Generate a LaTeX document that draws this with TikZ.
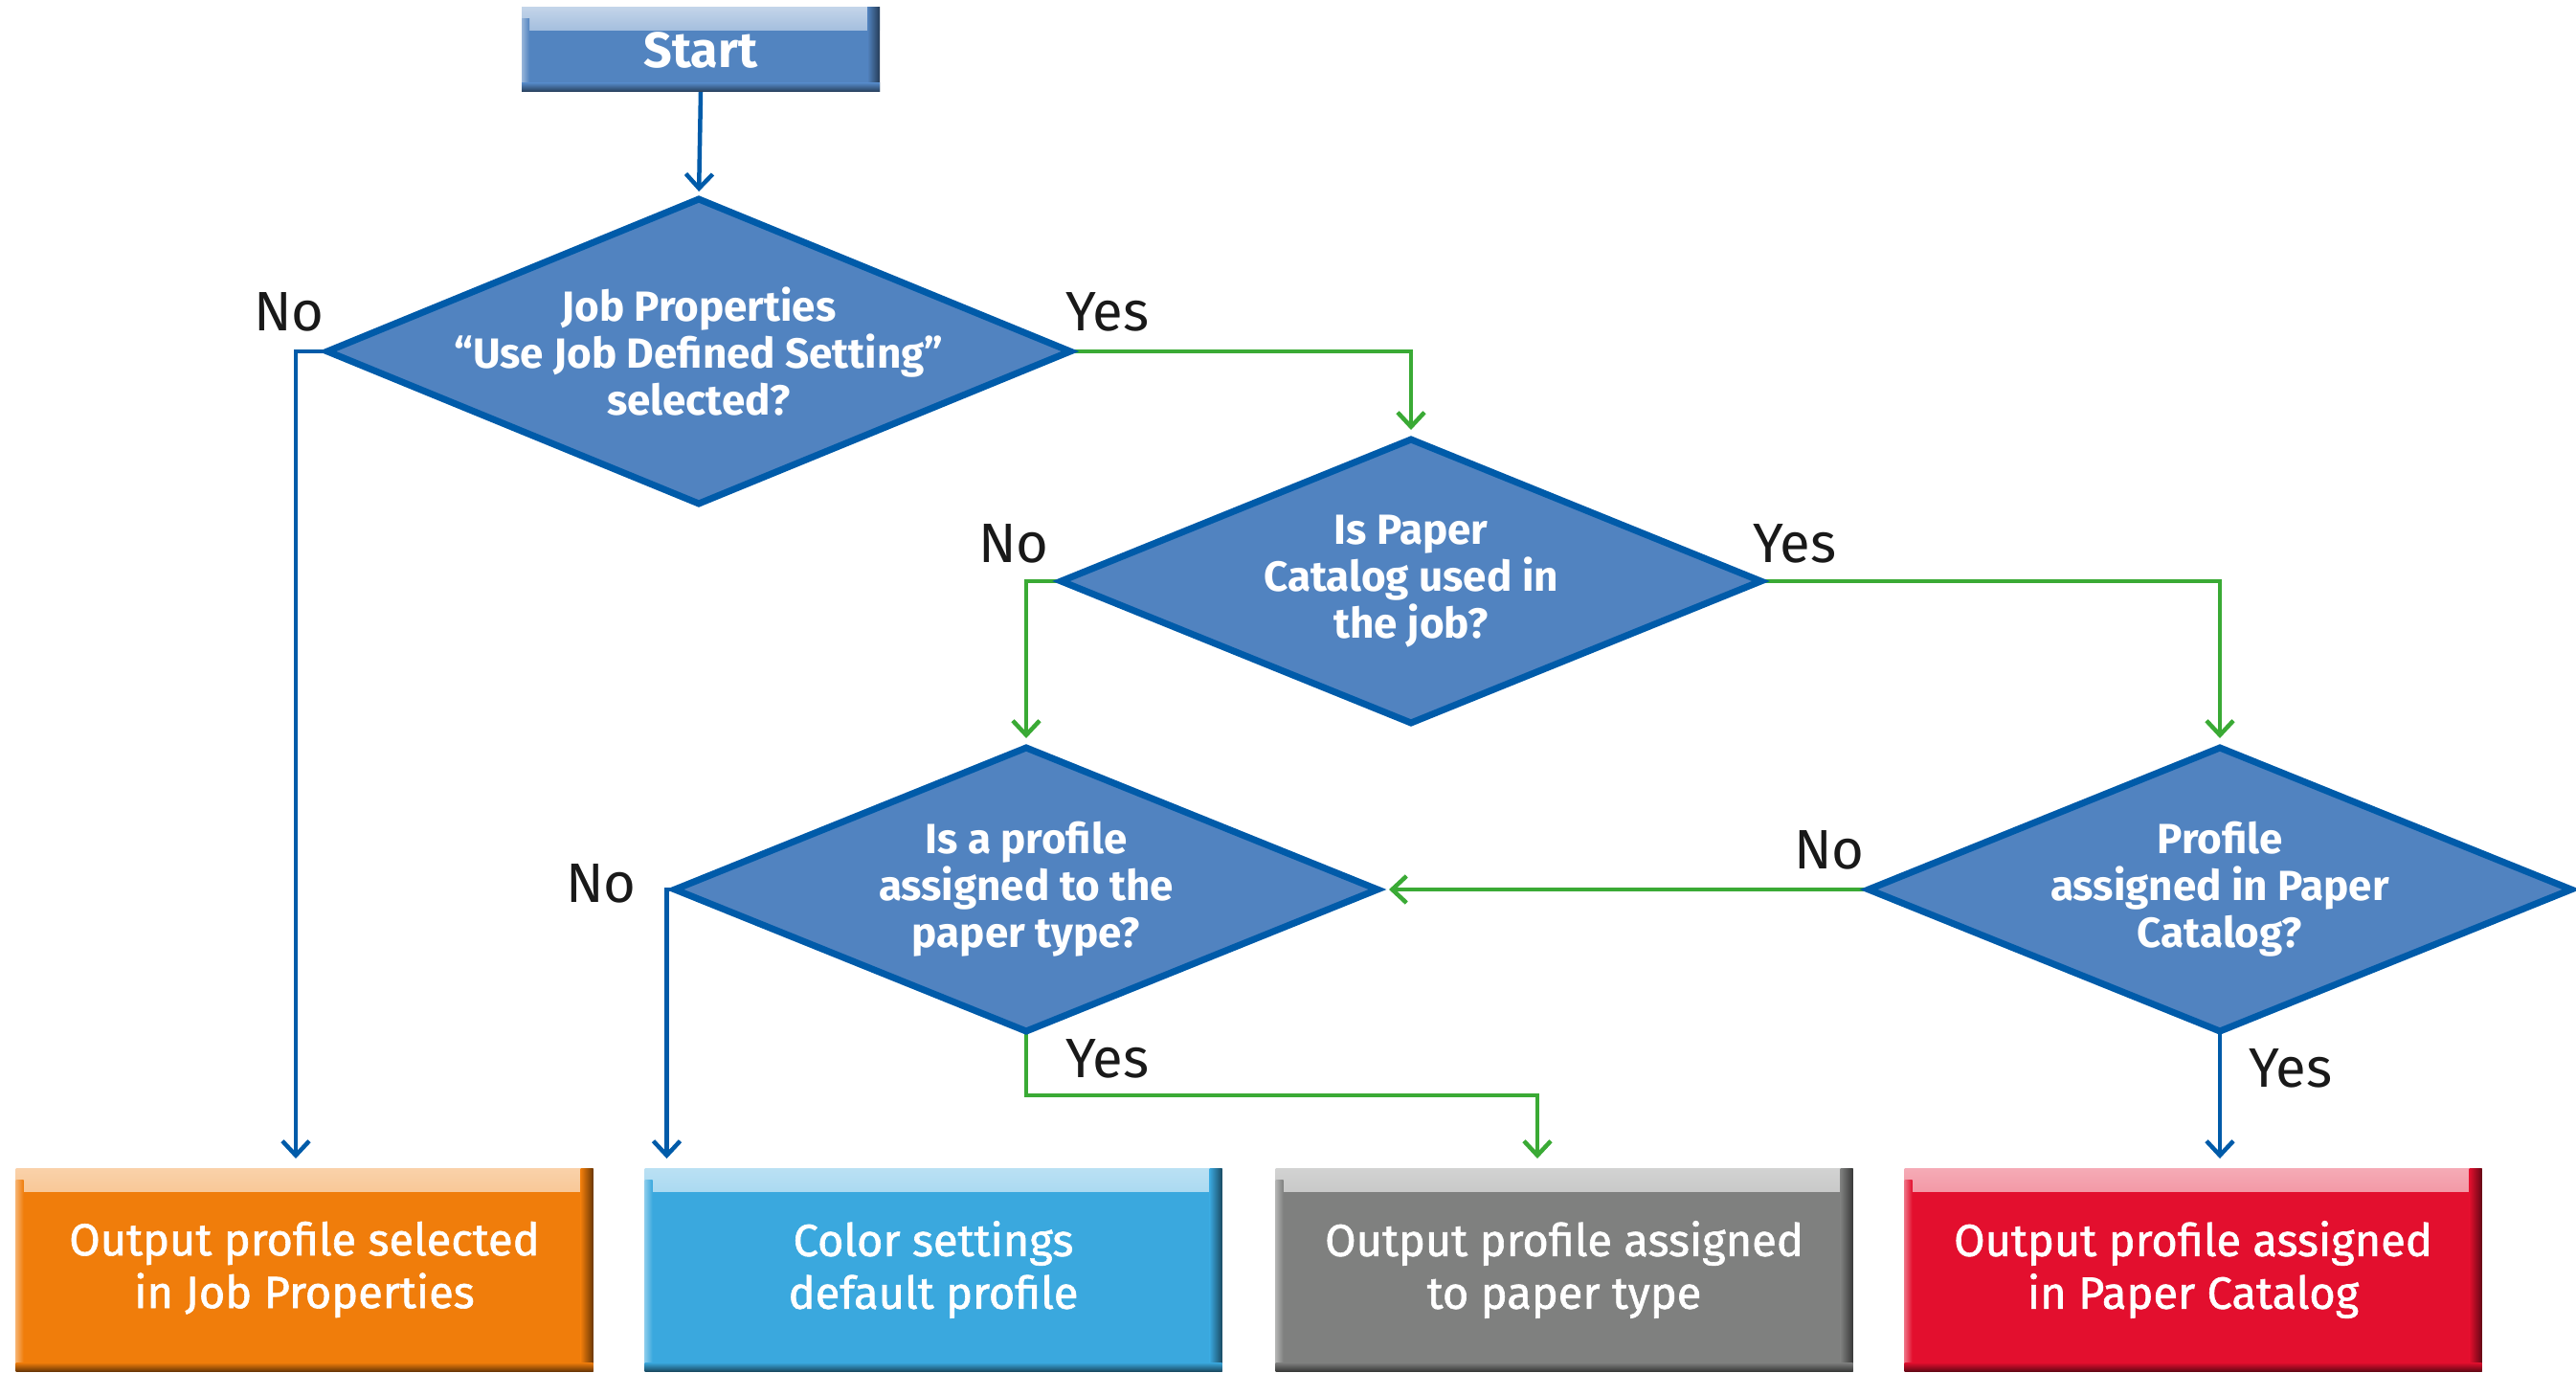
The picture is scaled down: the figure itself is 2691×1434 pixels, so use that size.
\documentclass[tikz,border=0pt]{standalone}
\usepackage{fontspec}
\setmainfont{Fira Sans}
\newfontfamily\medfont{Fira Sans}[FakeBold=1.3]
\usetikzlibrary{shapes.geometric,arrows.meta,calc,backgrounds}
\definecolor{lblue}{RGB}{0,91,169}
\definecolor{lgreen}{RGB}{58,170,53}
\definecolor{dfill}{RGB}{81,131,192}
\definecolor{cstart}{RGB}{82,132,192}
\definecolor{corange}{RGB}{240,125,11}
\definecolor{ccyan}{RGB}{58,168,222}
\definecolor{cgray}{RGB}{127,128,127}
\definecolor{cred}{RGB}{227,15,46}
\tikzset{
  bevel/.style={path picture={
    \shade[top color=#1!35!white, bottom color=#1]
      (path picture bounding box.north west) rectangle ([yshift=-24pt]path picture bounding box.north east);
    \shade[left color=#1!60!white, right color=#1]
      ([yshift=-12pt]path picture bounding box.north west) rectangle ([xshift=8pt]path picture bounding box.south west);
    \shade[left color=#1, right color=#1!45!black]
      ([xshift=-13pt]path picture bounding box.north east) rectangle (path picture bounding box.south east);
    \shade[top color=#1, bottom color=#1!45!black]
      ([yshift=9pt]path picture bounding box.south west) rectangle (path picture bounding box.south east);
  }},
  startbox/.style={rectangle, fill=cstart, bevel=cstart, minimum width=374pt, minimum height=88pt,
    inner sep=0pt, outer sep=0pt, text=white, font=\bfseries\fontsize{52}{58}\selectfont},
  endbox/.style={rectangle, fill=#1, bevel=#1, minimum width=603pt, minimum height=212pt,
    inner sep=0pt, outer sep=0pt, text=white, align=center, font=\medfont\fontsize{47}{55}\selectfont},
  dec/.style={diamond, draw=lblue, line width=7pt, fill=dfill, inner sep=0pt, outer sep=0pt},
  dtext/.style={text=white, align=center, inner sep=0pt, font=\bfseries\fontsize{44}{49}\selectfont},
  lbl/.style={text=black!90, inner sep=0pt, font=\fontsize{58}{62}\selectfont},
  conn/.style={line width=4.5pt, -{Straight Barb[length=15pt,width=28pt]}},
  bl/.style={conn, draw=lblue},
  gr/.style={conn, draw=lgreen},
}
\begin{document}
\begin{tikzpicture}[x=1pt,y=-1pt]
\useasboundingbox (0,0) rectangle (2691,1434);

% nodes
\node[startbox] (start) at (732,52) {Start};

\node[dec, minimum width=776pt, minimum height=318pt] (D1) at (730,367) {};
\node[dtext] (D1t) at (D1.center) {Job Properties\\``Use Job Defined Setting''\\selected?};

\node[dec, minimum width=731pt, minimum height=296pt] (D2) at (1474,607) {};
\node[dtext] (D2t) at (D2.center) {Is Paper\\Catalog used in\\the job?};

\node[dec, minimum width=734pt, minimum height=296pt] (D3) at (1072,929) {};
\node[dtext] (D3t) at (D3.center) {Is a profile\\assigned to the\\paper type?};

\node[dec, minimum width=734pt, minimum height=296pt] (D4) at (2319,929) {};
\node[dtext] (D4t) at (D4.center) {Profile\\assigned in Paper\\Catalog?};

\node[endbox=corange] (orange) at (318,1326) {Output profile selected\\in Job Properties};
\node[endbox=ccyan] (cbox) at (975,1326) {Color settings\\default profile};
\node[endbox=cgray] (gray) at (1634,1326) {Output profile assigned\\to paper type};
\node[endbox=cred] (red) at (2291,1326) {Output profile assigned\\in Paper Catalog};

% labels
\node[lbl] (n1) at (302,326) {No};
\node[lbl] (y1) at (1157,326) {Yes};
\node[lbl] (n2) at (1059,568) {No};
\node[lbl] (y2) at (1875,568) {Yes};
\node[lbl] (n3) at (628,923) {No};
\node[lbl] (n4) at (1911,888) {No};
\node[lbl] (y3) at (1157,1106) {Yes};
\node[lbl] (y4) at (2393,1116) {Yes};

% connectors
\begin{scope}[on background layer]
\draw[bl, shorten >=8pt] (start.south) -- (D1.north);
\draw[bl, shorten >=10pt] (D1.west) -| ([xshift=-9pt]orange.north);
\draw[gr, shorten >=10pt] (D1.east) -| (D2.north);
\draw[gr, shorten >=10pt] (D2.west) -| (D3.north);
\draw[gr, shorten >=10pt] (D2.east) -| (D4.north);
\draw[gr, shorten >=12pt] (D4.west) -- (D3.east);
\draw[bl, shorten >=10pt] (D4.south) -- (D4.south |- red.north);
\draw[bl, shorten >=10pt] (D3.west) -| ([xshift=23pt]cbox.north west);
\draw[gr, shorten >=10pt] (D3.south) -- ++(0,67) -| ([xshift=-28pt]gray.north);
\end{scope}
\end{tikzpicture}
\end{document}
